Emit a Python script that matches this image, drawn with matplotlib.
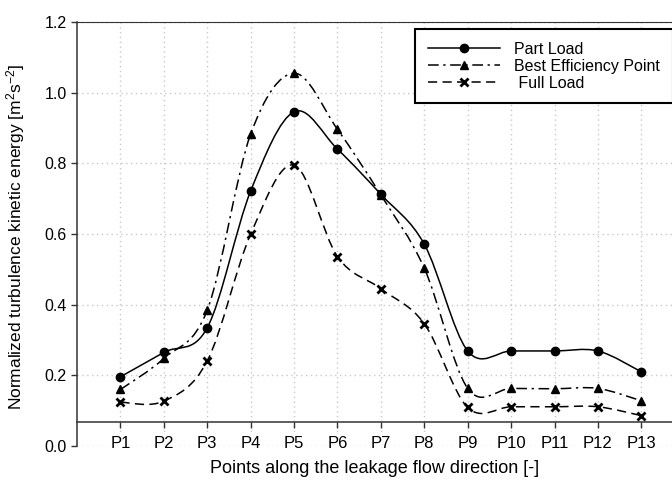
import numpy as np
import matplotlib.pyplot as plt
from matplotlib.path import Path
from matplotlib.patches import PathPatch
from matplotlib.lines import Line2D

plt.rcParams['font.family'] = ['Liberation Sans', 'DejaVu Sans']
plt.rcParams['mathtext.default'] = 'regular'

# Données
points = ["P1", "P2", "P3", "P4", "P5", "P6", "P7", "P8", "P9", "P10", "P11", "P12", "P13"]
part_load = [0.196, 0.265, 0.335, 0.722, 0.946, 0.840, 0.712, 0.571, 0.269, 0.269, 0.269, 0.269, 0.210]
best_eff = [0.160, 0.248, 0.385, 0.883, 1.055, 0.896, 0.710, 0.503, 0.163, 0.163, 0.162, 0.163, 0.128]
full_load = [0.124, 0.127, 0.241, 0.600, 0.795, 0.536, 0.445, 0.346, 0.109, 0.111, 0.111, 0.111, 0.086]


def courbe_lisse(x, y):
    # Chemin de Bézier (Catmull-Rom) passant par les points
    p = np.column_stack([x, y]).astype(float)
    ext = np.vstack([p[0], p, p[-1]])
    verts = [p[0]]
    codes = [Path.MOVETO]
    for i in range(len(p) - 1):
        p0, p1, p2, p3 = ext[i], ext[i + 1], ext[i + 2], ext[i + 3]
        verts += [p1 + (p2 - p0) / 6, p2 - (p3 - p1) / 6, p2]
        codes += [Path.CURVE4] * 3
    return Path(verts, codes)


fig = plt.figure(figsize=(6.72, 4.86), dpi=100)
ax = fig.add_axes([77 / 672, 40 / 486, 1 - 77 / 672, 424 / 486])

x = np.arange(1, len(points) + 1)
series = [
    (part_load, '-', 'o', 6, "Part Load"),
    (best_eff, (0, (7, 3, 1.5, 3)), '^', 6, "Best Efficiency Point"),
    (full_load, (0, (6, 3.5)), 'x', 6, " Full Load"),
]
handles = []
for y, ls, mk, ms, lab in series:
    ax.add_patch(PathPatch(courbe_lisse(x, y), fill=False, lw=1.1, ls=ls, ec='black', zorder=2))
    ax.plot(x, y, ls='none', marker=mk, ms=ms, color='black', mew=2 if mk == 'x' else 1, zorder=3)
    handles.append(Line2D([], [], color='black', lw=1.1, ls=ls, marker=mk, ms=ms,
                          mew=2 if mk == 'x' else 1))

ax.set_xlim(-0.002, 13.707)
ax.set_ylim(0, 1.2)
ax.set_yticks(np.arange(0, 1.21, 0.2))
ax.set_yticklabels(["%.1f" % v for v in np.arange(0, 1.21, 0.2)])
ax.set_xticks(x)
ax.set_xticklabels(points)

ax.grid(True, ls=(0, (1, 2.5)), color='#c8c8c8', lw=1)
ax.yaxis.set_zorder(0.6)
ax.xaxis.set_zorder(0.7)

ax.spines['right'].set_visible(False)
ax.spines['top'].set_linestyle((0, (2, 1)))
ax.spines['top'].set_color('#333333')
ax.spines['left'].set_color('#333333')
ax.spines['left'].set_linewidth(1.1)
ax.spines['bottom'].set_position(('data', 0.068))
ax.spines['bottom'].set_color('#333333')
ax.spines['bottom'].set_linewidth(1.1)

ax.tick_params(axis='y', direction='out', length=4.5, width=1, pad=3, labelsize=11.5, color='#333333')
ax.tick_params(axis='x', direction='out', length=4.5, width=1, pad=5.5, labelsize=12, color='#333333')
for t in ax.get_xticklabels():
    t.set_bbox(dict(facecolor='white', edgecolor='none', pad=0.5))

ax.set_ylabel("Normalized turbulence kinetic energy [m$^{2}$s$^{-2}$]", fontsize=12.5)
ax.yaxis.set_label_coords(-0.084, 0.494)
ax.set_xlabel("Points along the leakage flow direction [-]", fontsize=13)
ax.xaxis.set_label_coords(0.5, -0.033)

leg = ax.legend(handles=handles, labels=[s[4] for s in series], loc='upper left',
                bbox_to_anchor=(407 / 672, 1 - 21 / 486), bbox_transform=fig.transFigure,
                fontsize=11.5, handlelength=4.5, labelspacing=0.12, fancybox=False,
                framealpha=1, edgecolor='black', borderpad=0.8, handletextpad=0.9)
leg.get_frame().set_linewidth(1.5)

plt.savefig("out.png", dpi=100)
